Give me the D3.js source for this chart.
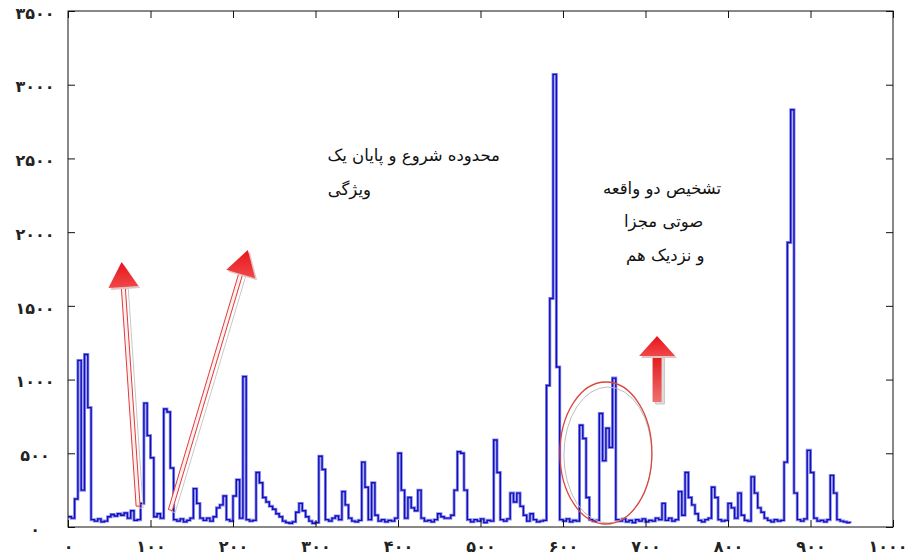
<!DOCTYPE html>
<html>
<head>
<meta charset="utf-8">
<script src="https://cdn.jsdelivr.net/npm/d3@7/dist/d3.min.js"></script>
<style>
  body { margin: 0; background: #fff; }
  .axis text { font-family: "DejaVu Sans", sans-serif; font-size: 16px; font-weight: bold; fill: #222; }
  .axis path { display: none; }
  .axis line { stroke: #111; }
  .note { font-family: "DejaVu Sans", sans-serif; font-size: 16.5px; fill: #111; }
</style>
</head>
<body>
<div id="chart"></div>
<script>
// sample spacing of the signal on the x axis
var sampleStep = 4;

// signal amplitude, one value every sampleStep units
var signal = [
  70, 60, 190, 1130, 250, 1170, 810, 50, 40, 55,
  35, 40, 70, 85, 75, 90, 80, 95, 60, 110,
  45, 50, 160, 840, 620, 470, 70, 90, 60, 800,
  780, 400, 50, 40, 55, 35, 45, 60, 260, 160,
  60, 45, 60, 40, 70, 130, 150, 210, 50, 40,
  210, 320, 60, 1020, 50, 40, 45, 370, 300, 200,
  170, 140, 120, 90, 70, 40, 30, 25, 35, 100,
  160, 110, 70, 40, 25, 30, 480, 390, 50, 40,
  60, 75, 50, 240, 150, 60, 40, 35, 45, 440,
  270, 50, 300, 80, 40, 50, 35, 45, 40, 60,
  500, 250, 60, 200, 130, 110, 250, 60, 40, 45,
  35, 50, 90, 70, 60, 60, 80, 250, 510, 500,
  250, 50, 35, 50, 40, 55, 30, 45, 40, 590,
  370, 50, 40, 55, 230, 170, 230, 140, 80, 40,
  90, 50, 35, 40, 45, 960, 1550, 3070, 1085, 50,
  40, 55, 35, 45, 40, 690, 600, 200, 50, 40,
  45, 770, 450, 670, 540, 1010, 50, 40, 55, 35,
  45, 30, 50, 40, 55, 35, 45, 40, 60, 50,
  160, 45, 60, 40, 50, 240, 80, 370, 200, 150,
  90, 45, 35, 50, 60, 270, 200, 50, 40, 45,
  160, 130, 60, 230, 80, 45, 40, 340, 230, 130,
  100, 60, 45, 35, 50, 40, 45, 440, 1930, 2830,
  230, 50, 40, 55, 520, 370, 60, 40, 45, 35,
  50, 350, 230, 50, 40, 35, 30, 25
];

var xTicks = [0, 100, 200, 300, 400, 500, 600, 700, 800, 900, 1000];
var xTickLabels = ["۰", "۱۰۰", "۲۰۰", "۳۰۰", "۴۰۰", "۵۰۰", "۶۰۰", "۷۰۰", "۸۰۰", "۹۰۰", "۱۰۰۰"];
var yTicks = [0, 500, 1000, 1500, 2000, 2500, 3000, 3500];
var yTickLabels = ["۰", "۵۰۰", "۱۰۰۰", "۱۵۰۰", "۲۰۰۰", "۲۵۰۰", "۳۰۰۰", "۳۵۰۰"];

// annotation texts, anchored in data units
var note1 = [
  {x: 419, y: 2523, text: "محدوده شروع و پایان یک"},
  {x: 341, y: 2293, text: "ویژگی"}
];
var note2 = [
  {x: 720, y: 2300, text: "تشخیص دو واقعه"},
  {x: 722, y: 2076, text: "صوتی مجزا"},
  {x: 724, y: 1845, text: "و نزدیک هم"}
];

var margin = {top: 11, right: 17, bottom: 30, left: 68};
var width = 910 - margin.left - margin.right;
var height = 557 - margin.top - margin.bottom;

var svg = d3.select("#chart")
  .append("svg")
  .attr("width", 910)
  .attr("height", 557)
  .append("g")
  .attr("transform", "translate(" + margin.left + "," + margin.top + ")");

var x = d3.scaleLinear().domain([0, 1000]).range([0, width]);
var y = d3.scaleLinear().domain([0, 3500]).range([height, 0]);

var data = signal.map(function(v, i) { return {x: i * sampleStep, y: v}; });

var line = d3.line()
  .x(function(d) { return x(d.x); })
  .y(function(d) { return y(d.y); })
  .curve(d3.curveStepAfter);

// light halo under the dark trace, like the scanned original
svg.append("path")
  .datum(data)
  .attr("fill", "none")
  .attr("stroke", "#8c8cf2")
  .attr("stroke-width", 3)
  .attr("d", line);

svg.append("path")
  .datum(data)
  .attr("fill", "none")
  .attr("stroke", "#1010b8")
  .attr("stroke-width", 1.4)
  .attr("d", line);

// axes, ticks pointing inward on all four sides
var xAxis = svg.append("g")
  .attr("class", "x axis")
  .attr("transform", "translate(0," + height + ")")
  .call(d3.axisBottom(x).tickValues(xTicks).tickSize(-7).tickPadding(14)
    .tickFormat(function(d, i) { return xTickLabels[i]; }));
// last label sits against the page edge, keep it inside
xAxis.selectAll("text")
  .filter(function(d) { return d === 1000; })
  .attr("x", 14)
  .style("text-anchor", "end");

svg.append("g")
  .attr("class", "x axis")
  .call(d3.axisTop(x).tickValues(xTicks).tickSize(-7).tickFormat(""));

var yAxis = svg.append("g")
  .attr("class", "y axis")
  .call(d3.axisLeft(y).tickValues(yTicks).tickSize(-7)
    .tickFormat(function(d, i) { return yTickLabels[i]; }));
yAxis.selectAll("text")
  .attr("x", -33)
  .attr("dy", "0.45em")
  .style("text-anchor", "middle");

svg.append("g")
  .attr("class", "y axis")
  .attr("transform", "translate(" + width + ",0)")
  .call(d3.axisRight(y).tickValues(yTicks).tickSize(-7).tickFormat(""));

svg.append("rect")
  .attr("width", width)
  .attr("height", height)
  .attr("fill", "none")
  .attr("stroke", "#111")
  .attr("stroke-width", 1);

// gradients for the red arrows
var defs = svg.append("defs");
var g1 = defs.append("linearGradient").attr("id", "headGrad")
  .attr("x1", 0).attr("y1", 0).attr("x2", 0).attr("y2", 1);
g1.append("stop").attr("offset", "0%").attr("stop-color", "#e8141c");
g1.append("stop").attr("offset", "100%").attr("stop-color", "#f04848");
var g2 = defs.append("linearGradient").attr("id", "shaftGrad")
  .attr("x1", 0).attr("y1", 0).attr("x2", 0).attr("y2", 1);
g2.append("stop").attr("offset", "0%").attr("stop-color", "#e21a1a");
g2.append("stop").attr("offset", "100%").attr("stop-color", "#f07070");

function arrowPoints(tail, tip, shaftW, headW, headL) {
  var dx = tip[0] - tail[0], dy = tip[1] - tail[1];
  var len = Math.sqrt(dx * dx + dy * dy);
  var ux = dx / len, uy = dy / len, nx = -uy, ny = ux;
  var bx = tip[0] - ux * headL, by = tip[1] - uy * headL;
  return {
    shaft: [
      [tail[0] + nx * shaftW / 2, tail[1] + ny * shaftW / 2],
      [bx + nx * shaftW / 2, by + ny * shaftW / 2],
      [bx - nx * shaftW / 2, by - ny * shaftW / 2],
      [tail[0] - nx * shaftW / 2, tail[1] - ny * shaftW / 2]
    ],
    head: [
      [bx + nx * headW / 2, by + ny * headW / 2],
      tip,
      [bx - nx * headW / 2, by - ny * headW / 2]
    ]
  };
}

function drawArrow(tail, tip, shaftW, headW, headL, solid) {
  var a = arrowPoints([x(tail[0]), y(tail[1])], [x(tip[0]), y(tip[1])], shaftW, headW, headL);
  var g = svg.append("g");
  // soft grey shadow
  g.append("polygon")
    .attr("points", a.shaft.map(function(p) { return (p[0] + 3) + "," + (p[1] + 2); }).join(" "))
    .attr("fill", solid ? "#dcdcdc" : "none")
    .attr("stroke", "#c8c8c8")
    .attr("stroke-width", 1);
  g.append("polygon")
    .attr("points", a.shaft.map(function(p) { return p.join(","); }).join(" "))
    .attr("fill", solid ? "url(#shaftGrad)" : "#fdf0f0")
    .attr("stroke", solid ? "none" : "#e23a3a")
    .attr("stroke-width", 1);
  g.append("polygon")
    .attr("points", a.head.map(function(p) { return (p[0] + 2) + "," + (p[1] + 2); }).join(" "))
    .attr("fill", "#e3c4c4");
  g.append("polygon")
    .attr("points", a.head.map(function(p) { return p.join(","); }).join(" "))
    .attr("fill", "url(#headGrad)");
}

drawArrow([85, 142], [65, 1797], 4, 30, 25, false);
drawArrow([124, 115], [218, 1879], 4, 30, 25, false);
drawArrow([714, 848], [714, 1296], 9, 36, 20, true);

// ellipse round the two close events
var cx = x(652), cy = y(502);
svg.append("ellipse")
  .attr("cx", cx + 2).attr("cy", cy + 2)
  .attr("rx", 44).attr("ry", 68)
  .attr("fill", "none").attr("stroke", "#bdbdbd").attr("stroke-width", 1);
svg.append("ellipse")
  .attr("cx", cx).attr("cy", cy)
  .attr("rx", 46).attr("ry", 71)
  .attr("fill", "none").attr("stroke", "#d9473f").attr("stroke-width", 1.3);

svg.selectAll(".note1")
  .data(note1.concat(note2))
  .enter().append("text")
  .attr("class", "note")
  .attr("x", function(d) { return x(d.x); })
  .attr("y", function(d) { return y(d.y); })
  .attr("dy", "0.35em")
  .attr("text-anchor", "middle")
  .text(function(d) { return d.text; });
</script>
</body>
</html>
